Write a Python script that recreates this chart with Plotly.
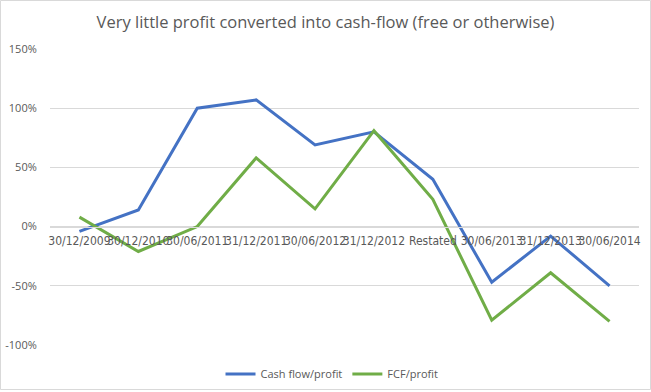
import plotly.graph_objects as go

categories = ["30/12/2009", "30/12/2010", "30/06/2011", "31/12/2011", "30/06/2012",
              "31/12/2012", "Restated", "30/06/2013", "31/12/2013", "30/06/2014"]
cash_flow_profit = [-4, 14, 100, 107, 69, 80, 40, -47, -8, -50]
fcf_profit = [8, -21, 0, 58, 15, 81, 23, -79, -39, -80]
y_tick_vals = [-100, -50, 0, 50, 100, 150]
y_tick_text = ["-100%", "-50%", "0%", "50%", "100%", "150%"]

W, H = 651, 392
L, R, T, B = 50, 12, 49, 47
pw, ph = W - L - R, H - T - B

font_fam = "Open Sans, Liberation Sans, sans-serif"
grey = "#595959"

fig = go.Figure()
fig.add_trace(go.Scatter(x=categories, y=cash_flow_profit, mode="lines", name="Cash flow/profit",
                         line=dict(color="#4472C4", width=3)))
fig.add_trace(go.Scatter(x=categories, y=fcf_profit, mode="lines", name="FCF/profit",
                         line=dict(color="#70AD47", width=3)))

ymin, ymax = -100, 150
fig.update_layout(
    width=W, height=H,
    margin=dict(l=L, r=R, t=T, b=B, autoexpand=False),
    paper_bgcolor="white", plot_bgcolor="white",
    title=dict(text="Very little profit converted into cash-flow (free or otherwise)",
               x=0.5, xanchor="center", xref="container", y=1 - 22 / H, yanchor="middle",
               yref="container",
               font=dict(family=font_fam, size=16.5, color=grey)),
    font=dict(family=font_fam, size=11, color=grey),
    showlegend=True,
    legend=dict(orientation="h", x=0.51, xanchor="center", xref="container",
                y=1 - 374 / H, yanchor="middle", yref="container",
                font=dict(size=11, color=grey), itemwidth=30),
    xaxis=dict(type="category", anchor="free", position=(0 - ymin) / (ymax - ymin),
               showgrid=False, showline=True, linecolor="#D9D9D9", linewidth=1,
               ticks="", automargin=False, ticklabelstandoff=3,
               tickfont=dict(size=12, color=grey, family="DejaVu Sans Condensed, Liberation Sans Narrow, sans-serif"),
               tickangle=0, range=[-0.5, len(categories) - 0.5], zeroline=False),
    yaxis=dict(range=[ymin, ymax], tickvals=y_tick_vals, ticktext=y_tick_text,
               showgrid=True, gridcolor="#D9D9D9", gridwidth=1, zeroline=False,
               ticks="outside", ticklen=10, tickcolor="rgba(0,0,0,0)", automargin=False,
               tickfont=dict(size=11, color=grey), showline=False),
)

# chart border
fig.add_shape(type="rect", xref="paper", yref="paper",
              x0=(0.5 - L) / pw, x1=(W - 0.5 - L) / pw,
              y0=-(B - 2.5) / ph, y1=1 + (T - 0.5) / ph,
              line=dict(color="#D9D9D9", width=1), fillcolor="rgba(0,0,0,0)", layer="below")

fig.write_html("out.html", config={"displayModeBar": False},
               post_script="document.body.style.margin='0';document.body.style.padding='0';")
